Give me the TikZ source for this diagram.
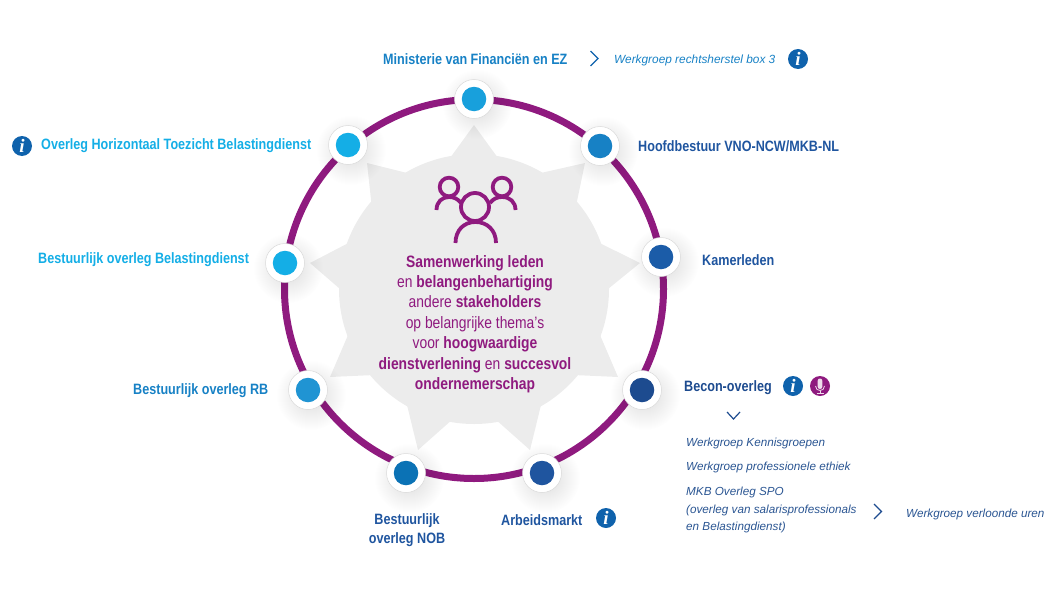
\documentclass[tikz,border=0pt]{standalone}
\usepackage{fontspec}
\usetikzlibrary{fadings,calc}
\setmainfont{Liberation Sans}
\newfontfamily\condf[FakeStretch=0.84]{Liberation Sans}
\newfontfamily\serifi{Liberation Serif}
\definecolor{ringp}{HTML}{8F1A7F}
\definecolor{greyf}{HTML}{ECECEC}
\definecolor{cA}{HTML}{18A0DC}
\definecolor{cB}{HTML}{14AEE6}
\definecolor{cC}{HTML}{2094D3}
\definecolor{cD}{HTML}{0B72B5}
\definecolor{cE}{HTML}{1F559F}
\definecolor{cF}{HTML}{1D4B8F}
\definecolor{cG}{HTML}{1B5CA8}
\definecolor{cH}{HTML}{1781C5}
\definecolor{iconb}{HTML}{0F62AC}
\definecolor{tF}{HTML}{2A5592}
\tikzfading[name=softsh,inner color=transparent!86,outer color=transparent!100]
\tikzset{
  x=1pt,y=-1pt,
  hub/.style={circle,draw=black!15,line width=.5pt,fill=white,minimum size=39pt,inner sep=0pt},
  dot/.style={circle,minimum size=24.5pt,inner sep=0pt,fill=#1},
  lab/.style={font=\condf\bfseries\fontsize{15}{17}\selectfont,text=#1,inner sep=0pt,anchor=west},
  sub/.style={font=\fontsize{11.7}{17.5}\selectfont\itshape,text=#1,inner sep=0pt,anchor=west,align=left},
  infoi/.style={circle,fill=iconb,minimum size=20pt,inner sep=0pt,text=white,font=\serifi\bfseries\itshape\fontsize{19}{19}\selectfont},
  chev/.style={draw=#1,line width=1.2pt,line join=miter},
  ppl/.style={draw=ringp,line width=3.8pt,line cap=butt}
}
\begin{document}
\begin{tikzpicture}
\useasboundingbox (0,0) rectangle (1056,594);
% star
\begin{scope}[shift={(474,289)}]
  \fill[greyf] (0,0) circle[radius=135pt];
\end{scope}
\foreach \a/\x/\y in {-90/474/125,-50/585/163,-10/640/263,30/618/377,70/530/450,110/418/450,150/330/377,190/310/263,230/367/163}{
  \fill[greyf] ($(474,289)+(\a-10:134)$) -- (\x,\y) -- ($(474,289)+(\a+10:134)$) -- cycle;
}
% ring
\draw[ringp,line width=7pt] (474,289) circle[radius=189.5pt];
% hubs
\foreach \n/\x/\y/\c in {a/474/99/cA,b/348/145/cB,c/285/263/cB,d/308/390/cC,e/406/473/cD,f/542/473/cE,g/642/390/cF,h/661/257/cG,i/600/146/cH}{
  \fill[black,path fading=softsh] (\x+3,\y+5) circle[radius=35pt];
  \node[hub] (h\n) at (\x,\y) {};
  \node[dot=\c] (d\n) at (\x,\y) {};
}
% labels
\node[lab=cH,anchor=west] (la) at (383,59) {Ministerie van Financiën en EZ};
\node[lab=cB,anchor=west] (lb) at (41,146) {Overleg Horizontaal Toezicht Belastingdienst};
\node[lab=cB,anchor=west] (lc) at (38,260) {Bestuurlijk overleg Belastingdienst};
\node[lab=cH,anchor=west] (ld) at (133,391) {Bestuurlijk overleg RB};
\node[lab=cE,anchor=north,align=center,font=\condf\bfseries\fontsize{15}{19}\selectfont] (le) at (407,513) {Bestuurlijk\\overleg NOB};
\node[lab=cE] (lf) at (501,520) {Arbeidsmarkt};
\node[lab=cF] (lg) at (684,388) {Becon-overleg};
\node[lab=cE] (lh) at (702,260) {Kamerleden};
\node[lab=cE] (li) at (638,146) {Hoofdbestuur VNO-NCW/MKB-NL};
% sub labels
\node[sub=cH,font=\fontsize{11.85}{17.5}\selectfont\itshape] (s1) at (614,60) {Werkgroep rechtsherstel box 3};
\node[sub=tF] (s2) at (686,443) {Werkgroep Kennisgroepen};
\node[sub=tF] (s3) at (686,467) {Werkgroep professionele ethiek};
\node[sub=tF] (s4) at (686,510) {MKB Overleg SPO\\(overleg van salarisprofessionals\\en Belastingdienst)};
\node[sub=tF] (s5) at (906,514) {Werkgroep verloonde uren};
% chevrons
\draw[chev=iconb] (590.5,51) -- (598,58.5) -- (590.5,66);
\draw[chev=cF] (727,412) -- (733.5,419) -- (740,412);
\draw[chev=cF] (874,504) -- (881.5,511.5) -- (874,519);
% info icons
\node[infoi] (i1) at (798,59) {i};
\node[infoi] (i2) at (22,146) {i};
\node[infoi] (i3) at (793,386) {i};
\node[infoi] (i4) at (606,518) {i};
% microphone
\node[circle,fill=ringp,minimum size=20pt,inner sep=0pt] (mic) at (820,386) {};
\fill[white!85!ringp,rounded corners=2.2pt] (817.7,378.5) rectangle (822.3,389);
\draw[white!85!ringp,line width=.8pt] (815.5,386) .. controls (815.5,392) and (824.5,392) .. (824.5,386);
\draw[white!85!ringp,line width=.8pt] (820,391) -- (820,393.5) (816.5,393.7) -- (823.5,393.7);
% people icon
\draw[ppl] (449,187) circle[radius=9.3pt];
\draw[ppl] (502,187) circle[radius=9.3pt];
\draw[ppl] (475,207) circle[radius=14pt];
\draw[ppl] (436.5,210) .. controls (436.5,202) and (442,197) .. (449,197) .. controls (454,197) and (458,199) .. (461,203);
\draw[ppl] (515.5,210) .. controls (515.5,202) and (510,197) .. (502,197) .. controls (497,197) and (493,199) .. (490,203);
\draw[ppl] (455.5,243) .. controls (455.5,230) and (464,222) .. (475.5,222) .. controls (487,222) and (496,230) .. (496,243);
% centre text
\node[inner sep=0pt,align=center,text=ringp,anchor=north,font=\condf\fontsize{16.5}{20.4}\selectfont] (ct) at (475,255)
{\textbf{Samenwerking leden}\\en \textbf{belangenbehartiging}\\andere \textbf{stakeholders}\\op belangrijke thema’s\\voor \textbf{hoogwaardige}\\\textbf{dienstverlening} en \textbf{succesvol}\\\textbf{ondernemerschap}};
\end{tikzpicture}
\end{document}
